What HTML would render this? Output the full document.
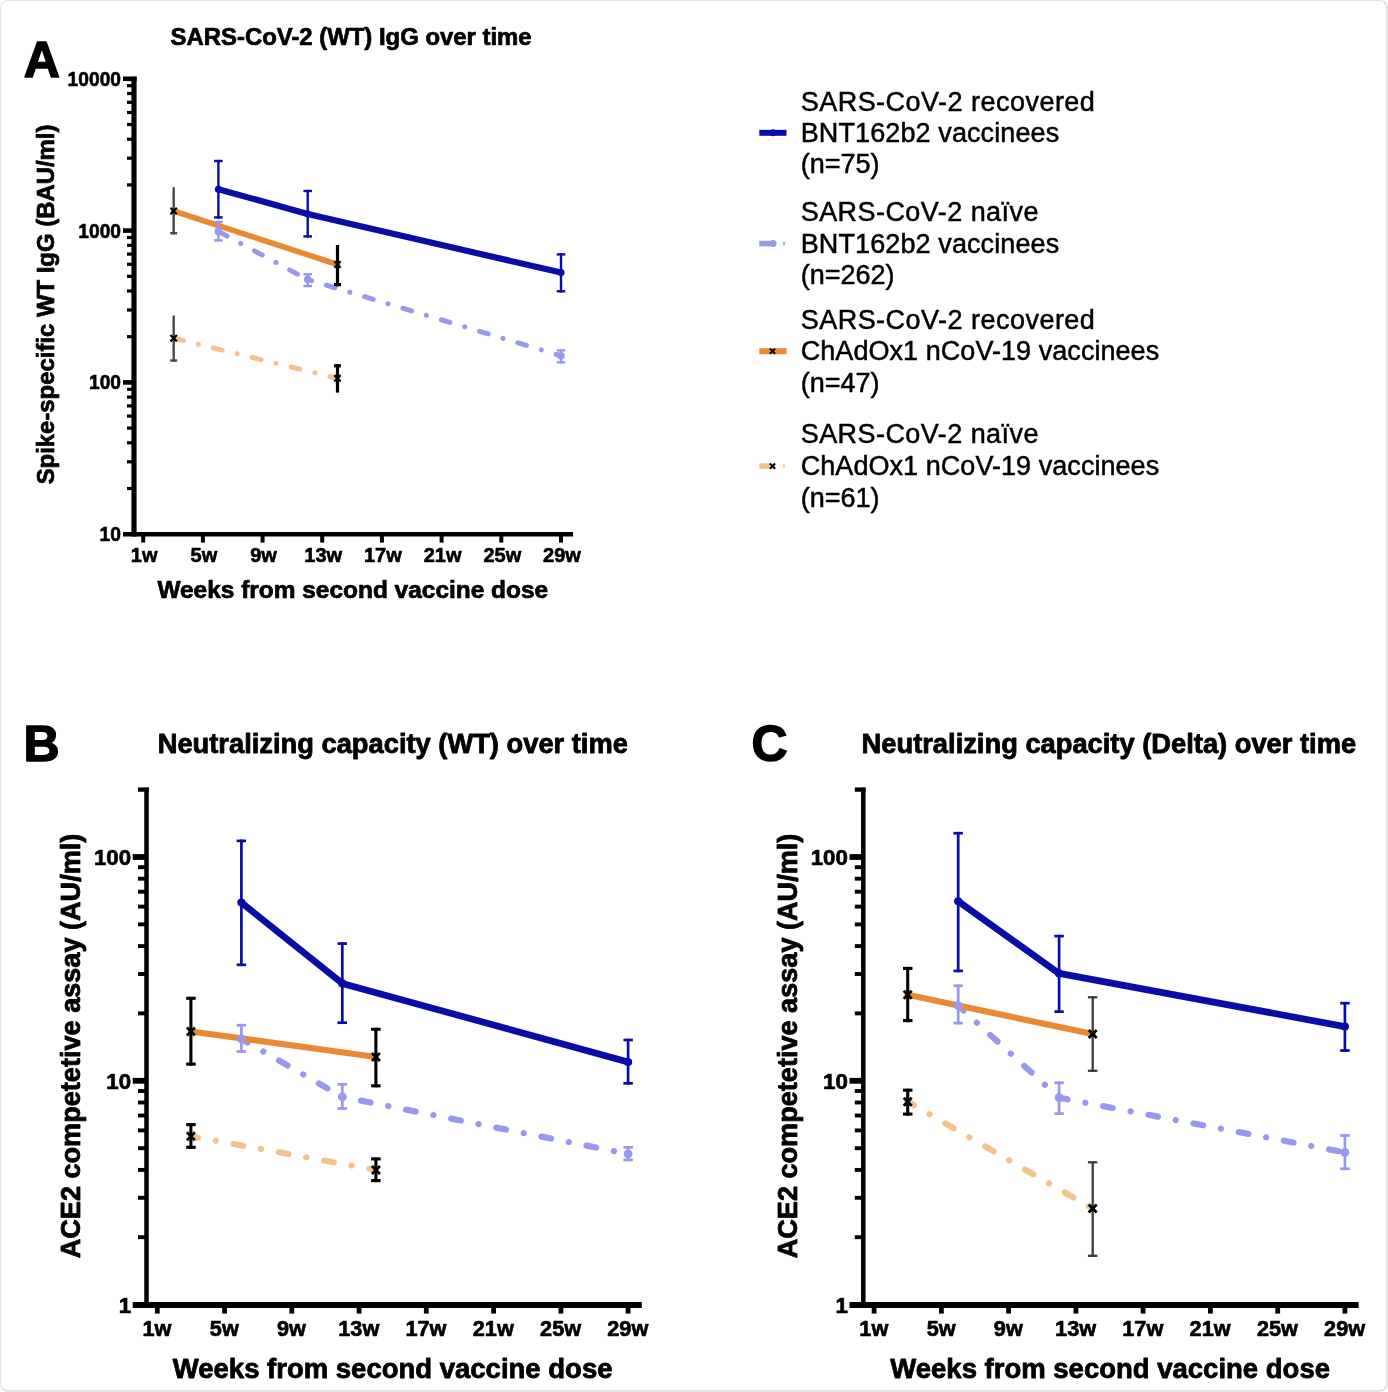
<!DOCTYPE html>
<html lang="en"><head><meta charset="utf-8"><title>Figure</title>
<style>
html,body{margin:0;padding:0;background:#fff;}
body{width:1388px;height:1392px;overflow:hidden;position:relative;}
.frame{position:absolute;left:0;top:0;width:1388px;height:1392px;box-sizing:border-box;border:1px solid #e3e3e3;border-right-width:2px;border-bottom-width:2px;border-radius:8px;background:#fff;}
svg{position:absolute;left:0;top:0;}
svg text{font-family:"Liberation Sans",Arial,Helvetica,sans-serif;}
</style></head><body>
<div class="frame"></div>
<svg width="1388" height="1392" viewBox="0 0 1388 1392">
<line x1="134.0" y1="76.8" x2="134.0" y2="536.5" stroke="#000" stroke-width="5.2" stroke-linecap="butt"/>
<line x1="123.0" y1="534.2" x2="573.0" y2="534.2" stroke="#000" stroke-width="4.6" stroke-linecap="butt"/>
<line x1="123.0" y1="78.8" x2="136.6" y2="78.8" stroke="#000" stroke-width="4.6" stroke-linecap="butt"/>
<text x="121.0" y="85.7" font-size="20" font-weight="bold" text-anchor="end" fill="#000" stroke="#000" stroke-width="0.60" stroke-linejoin="round" textLength="53.4" lengthAdjust="spacingAndGlyphs">10000</text>
<line x1="127.0" y1="184.9" x2="134.0" y2="184.9" stroke="#000" stroke-width="3.2" stroke-linecap="butt"/>
<line x1="127.0" y1="158.2" x2="134.0" y2="158.2" stroke="#000" stroke-width="3.2" stroke-linecap="butt"/>
<line x1="127.0" y1="139.2" x2="134.0" y2="139.2" stroke="#000" stroke-width="3.2" stroke-linecap="butt"/>
<line x1="127.0" y1="124.5" x2="134.0" y2="124.5" stroke="#000" stroke-width="3.2" stroke-linecap="butt"/>
<line x1="127.0" y1="112.5" x2="134.0" y2="112.5" stroke="#000" stroke-width="3.2" stroke-linecap="butt"/>
<line x1="127.0" y1="102.3" x2="134.0" y2="102.3" stroke="#000" stroke-width="3.2" stroke-linecap="butt"/>
<line x1="127.0" y1="93.5" x2="134.0" y2="93.5" stroke="#000" stroke-width="3.2" stroke-linecap="butt"/>
<line x1="127.0" y1="85.7" x2="134.0" y2="85.7" stroke="#000" stroke-width="3.2" stroke-linecap="butt"/>
<line x1="123.0" y1="230.6" x2="134.0" y2="230.6" stroke="#000" stroke-width="4.6" stroke-linecap="butt"/>
<text x="121.0" y="237.5" font-size="20" font-weight="bold" text-anchor="end" fill="#000" stroke="#000" stroke-width="0.60" stroke-linejoin="round" textLength="42.7" lengthAdjust="spacingAndGlyphs">1000</text>
<line x1="127.0" y1="336.7" x2="134.0" y2="336.7" stroke="#000" stroke-width="3.2" stroke-linecap="butt"/>
<line x1="127.0" y1="310.0" x2="134.0" y2="310.0" stroke="#000" stroke-width="3.2" stroke-linecap="butt"/>
<line x1="127.0" y1="291.0" x2="134.0" y2="291.0" stroke="#000" stroke-width="3.2" stroke-linecap="butt"/>
<line x1="127.0" y1="276.3" x2="134.0" y2="276.3" stroke="#000" stroke-width="3.2" stroke-linecap="butt"/>
<line x1="127.0" y1="264.3" x2="134.0" y2="264.3" stroke="#000" stroke-width="3.2" stroke-linecap="butt"/>
<line x1="127.0" y1="254.1" x2="134.0" y2="254.1" stroke="#000" stroke-width="3.2" stroke-linecap="butt"/>
<line x1="127.0" y1="245.3" x2="134.0" y2="245.3" stroke="#000" stroke-width="3.2" stroke-linecap="butt"/>
<line x1="127.0" y1="237.5" x2="134.0" y2="237.5" stroke="#000" stroke-width="3.2" stroke-linecap="butt"/>
<line x1="123.0" y1="382.4" x2="134.0" y2="382.4" stroke="#000" stroke-width="4.6" stroke-linecap="butt"/>
<text x="121.0" y="389.3" font-size="20" font-weight="bold" text-anchor="end" fill="#000" stroke="#000" stroke-width="0.60" stroke-linejoin="round" textLength="32.0" lengthAdjust="spacingAndGlyphs">100</text>
<line x1="127.0" y1="488.5" x2="134.0" y2="488.5" stroke="#000" stroke-width="3.2" stroke-linecap="butt"/>
<line x1="127.0" y1="461.8" x2="134.0" y2="461.8" stroke="#000" stroke-width="3.2" stroke-linecap="butt"/>
<line x1="127.0" y1="442.8" x2="134.0" y2="442.8" stroke="#000" stroke-width="3.2" stroke-linecap="butt"/>
<line x1="127.0" y1="428.1" x2="134.0" y2="428.1" stroke="#000" stroke-width="3.2" stroke-linecap="butt"/>
<line x1="127.0" y1="416.1" x2="134.0" y2="416.1" stroke="#000" stroke-width="3.2" stroke-linecap="butt"/>
<line x1="127.0" y1="405.9" x2="134.0" y2="405.9" stroke="#000" stroke-width="3.2" stroke-linecap="butt"/>
<line x1="127.0" y1="397.1" x2="134.0" y2="397.1" stroke="#000" stroke-width="3.2" stroke-linecap="butt"/>
<line x1="127.0" y1="389.3" x2="134.0" y2="389.3" stroke="#000" stroke-width="3.2" stroke-linecap="butt"/>
<text x="121.0" y="541.1" font-size="20" font-weight="bold" text-anchor="end" fill="#000" stroke="#000" stroke-width="0.60" stroke-linejoin="round" textLength="21.4" lengthAdjust="spacingAndGlyphs">10</text>
<line x1="143.2" y1="534.2" x2="143.2" y2="542.6" stroke="#000" stroke-width="4.0" stroke-linecap="butt"/>
<text x="144.2" y="562.0" font-size="20" font-weight="bold" text-anchor="middle" fill="#000" stroke="#000" stroke-width="0.60" stroke-linejoin="round">1w</text>
<line x1="202.9" y1="534.2" x2="202.9" y2="542.6" stroke="#000" stroke-width="4.0" stroke-linecap="butt"/>
<text x="203.9" y="562.0" font-size="20" font-weight="bold" text-anchor="middle" fill="#000" stroke="#000" stroke-width="0.60" stroke-linejoin="round">5w</text>
<line x1="262.6" y1="534.2" x2="262.6" y2="542.6" stroke="#000" stroke-width="4.0" stroke-linecap="butt"/>
<text x="263.6" y="562.0" font-size="20" font-weight="bold" text-anchor="middle" fill="#000" stroke="#000" stroke-width="0.60" stroke-linejoin="round">9w</text>
<line x1="322.2" y1="534.2" x2="322.2" y2="542.6" stroke="#000" stroke-width="4.0" stroke-linecap="butt"/>
<text x="323.2" y="562.0" font-size="20" font-weight="bold" text-anchor="middle" fill="#000" stroke="#000" stroke-width="0.60" stroke-linejoin="round">13w</text>
<line x1="381.9" y1="534.2" x2="381.9" y2="542.6" stroke="#000" stroke-width="4.0" stroke-linecap="butt"/>
<text x="382.9" y="562.0" font-size="20" font-weight="bold" text-anchor="middle" fill="#000" stroke="#000" stroke-width="0.60" stroke-linejoin="round">17w</text>
<line x1="441.6" y1="534.2" x2="441.6" y2="542.6" stroke="#000" stroke-width="4.0" stroke-linecap="butt"/>
<text x="442.6" y="562.0" font-size="20" font-weight="bold" text-anchor="middle" fill="#000" stroke="#000" stroke-width="0.60" stroke-linejoin="round">21w</text>
<line x1="501.3" y1="534.2" x2="501.3" y2="542.6" stroke="#000" stroke-width="4.0" stroke-linecap="butt"/>
<text x="502.3" y="562.0" font-size="20" font-weight="bold" text-anchor="middle" fill="#000" stroke="#000" stroke-width="0.60" stroke-linejoin="round">25w</text>
<line x1="561.0" y1="534.2" x2="561.0" y2="542.6" stroke="#000" stroke-width="4.0" stroke-linecap="butt"/>
<text x="562.0" y="562.0" font-size="20" font-weight="bold" text-anchor="middle" fill="#000" stroke="#000" stroke-width="0.60" stroke-linejoin="round">29w</text>
<text x="170.6" y="45.2" font-size="23.9" font-weight="bold" text-anchor="start" fill="#000" stroke="#000" stroke-width="0.72" stroke-linejoin="round">SARS-CoV-2 (WT) IgG over time</text>
<text x="157.4" y="598.0" font-size="24.45" font-weight="bold" text-anchor="start" fill="#000" stroke="#000" stroke-width="0.73" stroke-linejoin="round">Weeks from second vaccine dose</text>
<text x="54.0" y="304.5" font-size="23.9" font-weight="bold" text-anchor="middle" fill="#000" stroke="#000" stroke-width="0.72" stroke-linejoin="round" transform="rotate(-90 54.0 304.5)">Spike-specific WT IgG (BAU/ml)</text>
<text x="23.8" y="77.0" font-size="50" font-weight="bold" text-anchor="start" fill="#000" stroke="#000" stroke-width="1.50" stroke-linejoin="round">A</text>
<polyline points="173.7,338.2 337.5,378.3" fill="none" stroke="#f3c28f" stroke-width="5.0" stroke-linecap="round" stroke-linejoin="round" stroke-dasharray="9.0 15.45 0.1 15.45" stroke-dashoffset="-0.9"/>
<polyline points="218.4,231.4 307.7,279.6 561.0,355.8" fill="none" stroke="#9898ee" stroke-width="5.0" stroke-linecap="round" stroke-linejoin="round" stroke-dasharray="9.0 15.45 0.1 15.45" stroke-dashoffset="-0.9"/>
<polyline points="173.7,211.0 337.5,264.5" fill="none" stroke="#ec8833" stroke-width="5.6000000000000005" stroke-linecap="round" stroke-linejoin="round"/>
<polyline points="218.4,189.2 307.7,214.0 561.0,272.6" fill="none" stroke="#0a0ca8" stroke-width="6.2" stroke-linecap="round" stroke-linejoin="round"/>
<line x1="218.4" y1="220.8" x2="218.4" y2="241.6" stroke="#9898ee" stroke-width="2.4" stroke-linecap="butt"/>
<line x1="214.1" y1="222.0" x2="222.7" y2="222.0" stroke="#9898ee" stroke-width="2.4" stroke-linecap="butt"/>
<line x1="214.1" y1="240.4" x2="222.7" y2="240.4" stroke="#9898ee" stroke-width="2.4" stroke-linecap="butt"/>
<circle cx="218.4" cy="231.4" r="3.8" fill="#9898ee"/>
<line x1="307.7" y1="273.1" x2="307.7" y2="287.2" stroke="#9898ee" stroke-width="2.4" stroke-linecap="butt"/>
<line x1="303.4" y1="274.3" x2="312.0" y2="274.3" stroke="#9898ee" stroke-width="2.4" stroke-linecap="butt"/>
<line x1="303.4" y1="286.0" x2="312.0" y2="286.0" stroke="#9898ee" stroke-width="2.4" stroke-linecap="butt"/>
<circle cx="307.7" cy="279.6" r="3.8" fill="#9898ee"/>
<line x1="561.0" y1="349.2" x2="561.0" y2="363.5" stroke="#9898ee" stroke-width="2.4" stroke-linecap="butt"/>
<line x1="556.7" y1="350.4" x2="565.3" y2="350.4" stroke="#9898ee" stroke-width="2.4" stroke-linecap="butt"/>
<line x1="556.7" y1="362.3" x2="565.3" y2="362.3" stroke="#9898ee" stroke-width="2.4" stroke-linecap="butt"/>
<circle cx="561.0" cy="355.8" r="3.8" fill="#9898ee"/>
<line x1="218.4" y1="159.8" x2="218.4" y2="218.6" stroke="#0a0ca8" stroke-width="2.4" stroke-linecap="butt"/>
<line x1="214.1" y1="161.0" x2="222.7" y2="161.0" stroke="#0a0ca8" stroke-width="2.4" stroke-linecap="butt"/>
<line x1="214.1" y1="217.4" x2="222.7" y2="217.4" stroke="#0a0ca8" stroke-width="2.4" stroke-linecap="butt"/>
<circle cx="218.4" cy="189.2" r="3.5" fill="#0a0ca8"/>
<line x1="307.7" y1="189.8" x2="307.7" y2="237.6" stroke="#0a0ca8" stroke-width="2.4" stroke-linecap="butt"/>
<line x1="303.4" y1="191.0" x2="312.0" y2="191.0" stroke="#0a0ca8" stroke-width="2.4" stroke-linecap="butt"/>
<line x1="303.4" y1="236.4" x2="312.0" y2="236.4" stroke="#0a0ca8" stroke-width="2.4" stroke-linecap="butt"/>
<circle cx="307.7" cy="214.0" r="3.5" fill="#0a0ca8"/>
<line x1="561.0" y1="253.2" x2="561.0" y2="292.5" stroke="#0a0ca8" stroke-width="2.4" stroke-linecap="butt"/>
<line x1="556.7" y1="254.4" x2="565.3" y2="254.4" stroke="#0a0ca8" stroke-width="2.4" stroke-linecap="butt"/>
<line x1="556.7" y1="291.3" x2="565.3" y2="291.3" stroke="#0a0ca8" stroke-width="2.4" stroke-linecap="butt"/>
<circle cx="561.0" cy="272.6" r="3.5" fill="#0a0ca8"/>
<line x1="173.7" y1="315.6" x2="173.7" y2="361.7" stroke="#484848" stroke-width="2.4" stroke-linecap="butt"/>
<line x1="170.2" y1="360.5" x2="177.2" y2="360.5" stroke="#484848" stroke-width="2.4" stroke-linecap="butt"/>
<line x1="170.5" y1="335.0" x2="176.9" y2="341.4" stroke="#000" stroke-width="2.2" stroke-linecap="butt"/>
<line x1="170.5" y1="341.4" x2="176.9" y2="335.0" stroke="#000" stroke-width="2.2" stroke-linecap="butt"/>
<line x1="337.5" y1="364.2" x2="337.5" y2="392.6" stroke="#000" stroke-width="3.2" stroke-linecap="butt"/>
<line x1="334.0" y1="365.8" x2="341.0" y2="365.8" stroke="#000" stroke-width="3.2" stroke-linecap="butt"/>
<line x1="334.3" y1="375.1" x2="340.7" y2="381.5" stroke="#000" stroke-width="2.2" stroke-linecap="butt"/>
<line x1="334.3" y1="381.5" x2="340.7" y2="375.1" stroke="#000" stroke-width="2.2" stroke-linecap="butt"/>
<line x1="173.7" y1="187.2" x2="173.7" y2="234.4" stroke="#484848" stroke-width="2.4" stroke-linecap="butt"/>
<line x1="170.2" y1="233.2" x2="177.2" y2="233.2" stroke="#484848" stroke-width="2.4" stroke-linecap="butt"/>
<line x1="170.5" y1="207.8" x2="176.9" y2="214.2" stroke="#000" stroke-width="2.2" stroke-linecap="butt"/>
<line x1="170.5" y1="214.2" x2="176.9" y2="207.8" stroke="#000" stroke-width="2.2" stroke-linecap="butt"/>
<line x1="337.5" y1="245.0" x2="337.5" y2="286.2" stroke="#000" stroke-width="3.2" stroke-linecap="butt"/>
<line x1="334.0" y1="284.6" x2="341.0" y2="284.6" stroke="#000" stroke-width="3.2" stroke-linecap="butt"/>
<line x1="334.3" y1="261.3" x2="340.7" y2="267.7" stroke="#000" stroke-width="2.2" stroke-linecap="butt"/>
<line x1="334.3" y1="267.7" x2="340.7" y2="261.3" stroke="#000" stroke-width="2.2" stroke-linecap="butt"/>
<line x1="146.5" y1="787.8" x2="146.5" y2="1307.9" stroke="#000" stroke-width="4.5" stroke-linecap="butt"/>
<line x1="132.7" y1="1305.0" x2="641.8" y2="1305.0" stroke="#000" stroke-width="5.8" stroke-linecap="butt"/>
<line x1="132.7" y1="857.0" x2="146.5" y2="857.0" stroke="#000" stroke-width="5.8" stroke-linecap="butt"/>
<text x="131.1" y="865.1" font-size="22.3" font-weight="bold" text-anchor="end" fill="#000" stroke="#000" stroke-width="0.67" stroke-linejoin="round">100</text>
<line x1="138.0" y1="1013.4" x2="146.5" y2="1013.4" stroke="#000" stroke-width="3.9" stroke-linecap="butt"/>
<line x1="138.0" y1="974.0" x2="146.5" y2="974.0" stroke="#000" stroke-width="3.9" stroke-linecap="butt"/>
<line x1="138.0" y1="946.1" x2="146.5" y2="946.1" stroke="#000" stroke-width="3.9" stroke-linecap="butt"/>
<line x1="138.0" y1="924.4" x2="146.5" y2="924.4" stroke="#000" stroke-width="3.9" stroke-linecap="butt"/>
<line x1="138.0" y1="906.6" x2="146.5" y2="906.6" stroke="#000" stroke-width="3.9" stroke-linecap="butt"/>
<line x1="138.0" y1="891.7" x2="146.5" y2="891.7" stroke="#000" stroke-width="3.9" stroke-linecap="butt"/>
<line x1="138.0" y1="878.7" x2="146.5" y2="878.7" stroke="#000" stroke-width="3.9" stroke-linecap="butt"/>
<line x1="138.0" y1="867.2" x2="146.5" y2="867.2" stroke="#000" stroke-width="3.9" stroke-linecap="butt"/>
<line x1="132.7" y1="1080.8" x2="146.5" y2="1080.8" stroke="#000" stroke-width="5.8" stroke-linecap="butt"/>
<text x="131.1" y="1088.9" font-size="22.3" font-weight="bold" text-anchor="end" fill="#000" stroke="#000" stroke-width="0.67" stroke-linejoin="round">10</text>
<line x1="138.0" y1="1237.2" x2="146.5" y2="1237.2" stroke="#000" stroke-width="3.9" stroke-linecap="butt"/>
<line x1="138.0" y1="1197.8" x2="146.5" y2="1197.8" stroke="#000" stroke-width="3.9" stroke-linecap="butt"/>
<line x1="138.0" y1="1169.9" x2="146.5" y2="1169.9" stroke="#000" stroke-width="3.9" stroke-linecap="butt"/>
<line x1="138.0" y1="1148.2" x2="146.5" y2="1148.2" stroke="#000" stroke-width="3.9" stroke-linecap="butt"/>
<line x1="138.0" y1="1130.4" x2="146.5" y2="1130.4" stroke="#000" stroke-width="3.9" stroke-linecap="butt"/>
<line x1="138.0" y1="1115.5" x2="146.5" y2="1115.5" stroke="#000" stroke-width="3.9" stroke-linecap="butt"/>
<line x1="138.0" y1="1102.5" x2="146.5" y2="1102.5" stroke="#000" stroke-width="3.9" stroke-linecap="butt"/>
<line x1="138.0" y1="1091.0" x2="146.5" y2="1091.0" stroke="#000" stroke-width="3.9" stroke-linecap="butt"/>
<text x="131.1" y="1312.7" font-size="22.3" font-weight="bold" text-anchor="end" fill="#000" stroke="#000" stroke-width="0.67" stroke-linejoin="round">1</text>
<line x1="138.0" y1="789.6" x2="148.8" y2="789.6" stroke="#000" stroke-width="4.3" stroke-linecap="butt"/>
<line x1="157.3" y1="1305.0" x2="157.3" y2="1313.6" stroke="#000" stroke-width="4.8" stroke-linecap="butt"/>
<text x="157.0" y="1336.2" font-size="21.7" font-weight="bold" text-anchor="middle" fill="#000" stroke="#000" stroke-width="0.65" stroke-linejoin="round">1w</text>
<line x1="224.6" y1="1305.0" x2="224.6" y2="1313.6" stroke="#000" stroke-width="4.8" stroke-linecap="butt"/>
<text x="224.3" y="1336.2" font-size="21.7" font-weight="bold" text-anchor="middle" fill="#000" stroke="#000" stroke-width="0.65" stroke-linejoin="round">5w</text>
<line x1="291.8" y1="1305.0" x2="291.8" y2="1313.6" stroke="#000" stroke-width="4.8" stroke-linecap="butt"/>
<text x="291.5" y="1336.2" font-size="21.7" font-weight="bold" text-anchor="middle" fill="#000" stroke="#000" stroke-width="0.65" stroke-linejoin="round">9w</text>
<line x1="359.1" y1="1305.0" x2="359.1" y2="1313.6" stroke="#000" stroke-width="4.8" stroke-linecap="butt"/>
<text x="358.8" y="1336.2" font-size="21.7" font-weight="bold" text-anchor="middle" fill="#000" stroke="#000" stroke-width="0.65" stroke-linejoin="round">13w</text>
<line x1="426.3" y1="1305.0" x2="426.3" y2="1313.6" stroke="#000" stroke-width="4.8" stroke-linecap="butt"/>
<text x="426.0" y="1336.2" font-size="21.7" font-weight="bold" text-anchor="middle" fill="#000" stroke="#000" stroke-width="0.65" stroke-linejoin="round">17w</text>
<line x1="493.6" y1="1305.0" x2="493.6" y2="1313.6" stroke="#000" stroke-width="4.8" stroke-linecap="butt"/>
<text x="493.3" y="1336.2" font-size="21.7" font-weight="bold" text-anchor="middle" fill="#000" stroke="#000" stroke-width="0.65" stroke-linejoin="round">21w</text>
<line x1="560.9" y1="1305.0" x2="560.9" y2="1313.6" stroke="#000" stroke-width="4.8" stroke-linecap="butt"/>
<text x="560.6" y="1336.2" font-size="21.7" font-weight="bold" text-anchor="middle" fill="#000" stroke="#000" stroke-width="0.65" stroke-linejoin="round">25w</text>
<line x1="628.1" y1="1305.0" x2="628.1" y2="1313.6" stroke="#000" stroke-width="4.8" stroke-linecap="butt"/>
<text x="627.8" y="1336.2" font-size="21.7" font-weight="bold" text-anchor="middle" fill="#000" stroke="#000" stroke-width="0.65" stroke-linejoin="round">29w</text>
<text x="157.7" y="752.6" font-size="27.3" font-weight="bold" text-anchor="start" fill="#000" stroke="#000" stroke-width="0.82" stroke-linejoin="round">Neutralizing capacity (WT) over time</text>
<text x="172.8" y="1378.0" font-size="27.5" font-weight="bold" text-anchor="start" fill="#000" stroke="#000" stroke-width="0.82" stroke-linejoin="round">Weeks from second vaccine dose</text>
<text x="79.8" y="1046.0" font-size="27.1" font-weight="bold" text-anchor="middle" fill="#000" stroke="#000" stroke-width="0.81" stroke-linejoin="round" transform="rotate(-90 79.8 1046.0)">ACE2 competetive assay (AU/ml)</text>
<text x="23.6" y="761.3" font-size="50" font-weight="bold" text-anchor="start" fill="#000" stroke="#000" stroke-width="1.50" stroke-linejoin="round">B</text>
<polyline points="190.9,1136.2 375.9,1170.0" fill="none" stroke="#f3c28f" stroke-width="6.2" stroke-linecap="round" stroke-linejoin="round" stroke-dasharray="9.8 18.05 0.1 18.05" stroke-dashoffset="2.6"/>
<polyline points="241.4,1038.9 342.3,1096.9 628.1,1153.9" fill="none" stroke="#9898ee" stroke-width="6.2" stroke-linecap="round" stroke-linejoin="round" stroke-dasharray="9.8 18.05 0.1 18.05" stroke-dashoffset="2.6"/>
<polyline points="190.9,1031.4 375.9,1057.0" fill="none" stroke="#ec8833" stroke-width="6.1000000000000005" stroke-linecap="round" stroke-linejoin="round"/>
<polyline points="241.4,902.6 342.3,983.4 628.1,1062.0" fill="none" stroke="#0a0ca8" stroke-width="6.7" stroke-linecap="round" stroke-linejoin="round"/>
<line x1="241.4" y1="1023.9" x2="241.4" y2="1052.8" stroke="#9898ee" stroke-width="2.7" stroke-linecap="butt"/>
<line x1="236.6" y1="1025.2" x2="246.1" y2="1025.2" stroke="#9898ee" stroke-width="2.7" stroke-linecap="butt"/>
<line x1="236.6" y1="1051.5" x2="246.1" y2="1051.5" stroke="#9898ee" stroke-width="2.7" stroke-linecap="butt"/>
<circle cx="241.4" cy="1038.9" r="4.4" fill="#9898ee"/>
<line x1="342.3" y1="1083.0" x2="342.3" y2="1109.8" stroke="#9898ee" stroke-width="2.7" stroke-linecap="butt"/>
<line x1="337.5" y1="1084.3" x2="347.0" y2="1084.3" stroke="#9898ee" stroke-width="2.7" stroke-linecap="butt"/>
<line x1="337.5" y1="1108.5" x2="347.0" y2="1108.5" stroke="#9898ee" stroke-width="2.7" stroke-linecap="butt"/>
<circle cx="342.3" cy="1096.9" r="4.4" fill="#9898ee"/>
<line x1="628.1" y1="1146.0" x2="628.1" y2="1161.2" stroke="#9898ee" stroke-width="2.7" stroke-linecap="butt"/>
<line x1="623.4" y1="1147.3" x2="632.9" y2="1147.3" stroke="#9898ee" stroke-width="2.7" stroke-linecap="butt"/>
<line x1="623.4" y1="1159.9" x2="632.9" y2="1159.9" stroke="#9898ee" stroke-width="2.7" stroke-linecap="butt"/>
<circle cx="628.1" cy="1153.9" r="4.4" fill="#9898ee"/>
<line x1="241.4" y1="839.5" x2="241.4" y2="966.1" stroke="#0a0ca8" stroke-width="2.7" stroke-linecap="butt"/>
<line x1="236.6" y1="840.9" x2="246.1" y2="840.9" stroke="#0a0ca8" stroke-width="2.7" stroke-linecap="butt"/>
<line x1="236.6" y1="964.8" x2="246.1" y2="964.8" stroke="#0a0ca8" stroke-width="2.7" stroke-linecap="butt"/>
<circle cx="241.4" cy="902.6" r="4.1000000000000005" fill="#0a0ca8"/>
<line x1="342.3" y1="942.2" x2="342.3" y2="1024.0" stroke="#0a0ca8" stroke-width="2.7" stroke-linecap="butt"/>
<line x1="337.5" y1="943.6" x2="347.0" y2="943.6" stroke="#0a0ca8" stroke-width="2.7" stroke-linecap="butt"/>
<line x1="337.5" y1="1022.7" x2="347.0" y2="1022.7" stroke="#0a0ca8" stroke-width="2.7" stroke-linecap="butt"/>
<circle cx="342.3" cy="983.4" r="4.1000000000000005" fill="#0a0ca8"/>
<line x1="628.1" y1="1038.7" x2="628.1" y2="1084.6" stroke="#0a0ca8" stroke-width="2.7" stroke-linecap="butt"/>
<line x1="623.4" y1="1040.0" x2="632.9" y2="1040.0" stroke="#0a0ca8" stroke-width="2.7" stroke-linecap="butt"/>
<line x1="623.4" y1="1083.3" x2="632.9" y2="1083.3" stroke="#0a0ca8" stroke-width="2.7" stroke-linecap="butt"/>
<circle cx="628.1" cy="1062.0" r="4.1000000000000005" fill="#0a0ca8"/>
<line x1="190.9" y1="1123.0" x2="190.9" y2="1148.8" stroke="#000" stroke-width="3.1" stroke-linecap="butt"/>
<line x1="186.2" y1="1124.6" x2="195.7" y2="1124.6" stroke="#000" stroke-width="3.1" stroke-linecap="butt"/>
<line x1="186.2" y1="1147.3" x2="195.7" y2="1147.3" stroke="#000" stroke-width="3.1" stroke-linecap="butt"/>
<line x1="186.9" y1="1132.2" x2="194.9" y2="1140.2" stroke="#000" stroke-width="2.8" stroke-linecap="butt"/>
<line x1="186.9" y1="1140.2" x2="194.9" y2="1132.2" stroke="#000" stroke-width="2.8" stroke-linecap="butt"/>
<line x1="375.9" y1="1157.4" x2="375.9" y2="1182.1" stroke="#000" stroke-width="3.1" stroke-linecap="butt"/>
<line x1="371.1" y1="1158.9" x2="380.6" y2="1158.9" stroke="#000" stroke-width="3.1" stroke-linecap="butt"/>
<line x1="371.1" y1="1180.6" x2="380.6" y2="1180.6" stroke="#000" stroke-width="3.1" stroke-linecap="butt"/>
<line x1="371.9" y1="1166.0" x2="379.9" y2="1174.0" stroke="#000" stroke-width="2.8" stroke-linecap="butt"/>
<line x1="371.9" y1="1174.0" x2="379.9" y2="1166.0" stroke="#000" stroke-width="2.8" stroke-linecap="butt"/>
<line x1="190.9" y1="996.8" x2="190.9" y2="1065.6" stroke="#000" stroke-width="3.1" stroke-linecap="butt"/>
<line x1="186.2" y1="998.3" x2="195.7" y2="998.3" stroke="#000" stroke-width="3.1" stroke-linecap="butt"/>
<line x1="186.2" y1="1064.1" x2="195.7" y2="1064.1" stroke="#000" stroke-width="3.1" stroke-linecap="butt"/>
<line x1="186.9" y1="1027.4" x2="194.9" y2="1035.4" stroke="#000" stroke-width="2.8" stroke-linecap="butt"/>
<line x1="186.9" y1="1035.4" x2="194.9" y2="1027.4" stroke="#000" stroke-width="2.8" stroke-linecap="butt"/>
<line x1="375.9" y1="1027.8" x2="375.9" y2="1087.3" stroke="#000" stroke-width="3.1" stroke-linecap="butt"/>
<line x1="371.1" y1="1029.3" x2="380.6" y2="1029.3" stroke="#000" stroke-width="3.1" stroke-linecap="butt"/>
<line x1="371.1" y1="1085.8" x2="380.6" y2="1085.8" stroke="#000" stroke-width="3.1" stroke-linecap="butt"/>
<line x1="371.9" y1="1053.0" x2="379.9" y2="1061.0" stroke="#000" stroke-width="2.8" stroke-linecap="butt"/>
<line x1="371.9" y1="1061.0" x2="379.9" y2="1053.0" stroke="#000" stroke-width="2.8" stroke-linecap="butt"/>
<line x1="863.3" y1="787.8" x2="863.3" y2="1307.9" stroke="#000" stroke-width="4.5" stroke-linecap="butt"/>
<line x1="849.5" y1="1305.0" x2="1358.6" y2="1305.0" stroke="#000" stroke-width="5.8" stroke-linecap="butt"/>
<line x1="849.5" y1="857.0" x2="863.3" y2="857.0" stroke="#000" stroke-width="5.8" stroke-linecap="butt"/>
<text x="847.9" y="865.1" font-size="22.3" font-weight="bold" text-anchor="end" fill="#000" stroke="#000" stroke-width="0.67" stroke-linejoin="round">100</text>
<line x1="854.8" y1="1013.4" x2="863.3" y2="1013.4" stroke="#000" stroke-width="3.9" stroke-linecap="butt"/>
<line x1="854.8" y1="974.0" x2="863.3" y2="974.0" stroke="#000" stroke-width="3.9" stroke-linecap="butt"/>
<line x1="854.8" y1="946.1" x2="863.3" y2="946.1" stroke="#000" stroke-width="3.9" stroke-linecap="butt"/>
<line x1="854.8" y1="924.4" x2="863.3" y2="924.4" stroke="#000" stroke-width="3.9" stroke-linecap="butt"/>
<line x1="854.8" y1="906.6" x2="863.3" y2="906.6" stroke="#000" stroke-width="3.9" stroke-linecap="butt"/>
<line x1="854.8" y1="891.7" x2="863.3" y2="891.7" stroke="#000" stroke-width="3.9" stroke-linecap="butt"/>
<line x1="854.8" y1="878.7" x2="863.3" y2="878.7" stroke="#000" stroke-width="3.9" stroke-linecap="butt"/>
<line x1="854.8" y1="867.2" x2="863.3" y2="867.2" stroke="#000" stroke-width="3.9" stroke-linecap="butt"/>
<line x1="849.5" y1="1080.8" x2="863.3" y2="1080.8" stroke="#000" stroke-width="5.8" stroke-linecap="butt"/>
<text x="847.9" y="1088.9" font-size="22.3" font-weight="bold" text-anchor="end" fill="#000" stroke="#000" stroke-width="0.67" stroke-linejoin="round">10</text>
<line x1="854.8" y1="1237.2" x2="863.3" y2="1237.2" stroke="#000" stroke-width="3.9" stroke-linecap="butt"/>
<line x1="854.8" y1="1197.8" x2="863.3" y2="1197.8" stroke="#000" stroke-width="3.9" stroke-linecap="butt"/>
<line x1="854.8" y1="1169.9" x2="863.3" y2="1169.9" stroke="#000" stroke-width="3.9" stroke-linecap="butt"/>
<line x1="854.8" y1="1148.2" x2="863.3" y2="1148.2" stroke="#000" stroke-width="3.9" stroke-linecap="butt"/>
<line x1="854.8" y1="1130.4" x2="863.3" y2="1130.4" stroke="#000" stroke-width="3.9" stroke-linecap="butt"/>
<line x1="854.8" y1="1115.5" x2="863.3" y2="1115.5" stroke="#000" stroke-width="3.9" stroke-linecap="butt"/>
<line x1="854.8" y1="1102.5" x2="863.3" y2="1102.5" stroke="#000" stroke-width="3.9" stroke-linecap="butt"/>
<line x1="854.8" y1="1091.0" x2="863.3" y2="1091.0" stroke="#000" stroke-width="3.9" stroke-linecap="butt"/>
<text x="847.9" y="1312.7" font-size="22.3" font-weight="bold" text-anchor="end" fill="#000" stroke="#000" stroke-width="0.67" stroke-linejoin="round">1</text>
<line x1="854.8" y1="789.6" x2="865.5" y2="789.6" stroke="#000" stroke-width="4.3" stroke-linecap="butt"/>
<line x1="874.1" y1="1305.0" x2="874.1" y2="1313.6" stroke="#000" stroke-width="4.8" stroke-linecap="butt"/>
<text x="873.8" y="1336.2" font-size="21.7" font-weight="bold" text-anchor="middle" fill="#000" stroke="#000" stroke-width="0.65" stroke-linejoin="round">1w</text>
<line x1="941.4" y1="1305.0" x2="941.4" y2="1313.6" stroke="#000" stroke-width="4.8" stroke-linecap="butt"/>
<text x="941.1" y="1336.2" font-size="21.7" font-weight="bold" text-anchor="middle" fill="#000" stroke="#000" stroke-width="0.65" stroke-linejoin="round">5w</text>
<line x1="1008.6" y1="1305.0" x2="1008.6" y2="1313.6" stroke="#000" stroke-width="4.8" stroke-linecap="butt"/>
<text x="1008.3" y="1336.2" font-size="21.7" font-weight="bold" text-anchor="middle" fill="#000" stroke="#000" stroke-width="0.65" stroke-linejoin="round">9w</text>
<line x1="1075.9" y1="1305.0" x2="1075.9" y2="1313.6" stroke="#000" stroke-width="4.8" stroke-linecap="butt"/>
<text x="1075.6" y="1336.2" font-size="21.7" font-weight="bold" text-anchor="middle" fill="#000" stroke="#000" stroke-width="0.65" stroke-linejoin="round">13w</text>
<line x1="1143.1" y1="1305.0" x2="1143.1" y2="1313.6" stroke="#000" stroke-width="4.8" stroke-linecap="butt"/>
<text x="1142.8" y="1336.2" font-size="21.7" font-weight="bold" text-anchor="middle" fill="#000" stroke="#000" stroke-width="0.65" stroke-linejoin="round">17w</text>
<line x1="1210.4" y1="1305.0" x2="1210.4" y2="1313.6" stroke="#000" stroke-width="4.8" stroke-linecap="butt"/>
<text x="1210.1" y="1336.2" font-size="21.7" font-weight="bold" text-anchor="middle" fill="#000" stroke="#000" stroke-width="0.65" stroke-linejoin="round">21w</text>
<line x1="1277.7" y1="1305.0" x2="1277.7" y2="1313.6" stroke="#000" stroke-width="4.8" stroke-linecap="butt"/>
<text x="1277.4" y="1336.2" font-size="21.7" font-weight="bold" text-anchor="middle" fill="#000" stroke="#000" stroke-width="0.65" stroke-linejoin="round">25w</text>
<line x1="1344.9" y1="1305.0" x2="1344.9" y2="1313.6" stroke="#000" stroke-width="4.8" stroke-linecap="butt"/>
<text x="1344.6" y="1336.2" font-size="21.7" font-weight="bold" text-anchor="middle" fill="#000" stroke="#000" stroke-width="0.65" stroke-linejoin="round">29w</text>
<text x="861.6" y="752.6" font-size="27.3" font-weight="bold" text-anchor="start" fill="#000" stroke="#000" stroke-width="0.82" stroke-linejoin="round">Neutralizing capacity (Delta) over time</text>
<text x="890.3" y="1378.0" font-size="27.5" font-weight="bold" text-anchor="start" fill="#000" stroke="#000" stroke-width="0.82" stroke-linejoin="round">Weeks from second vaccine dose</text>
<text x="796.6" y="1046.0" font-size="27.1" font-weight="bold" text-anchor="middle" fill="#000" stroke="#000" stroke-width="0.81" stroke-linejoin="round" transform="rotate(-90 796.6 1046.0)">ACE2 competetive assay (AU/ml)</text>
<text x="751.5" y="761.3" font-size="50" font-weight="bold" text-anchor="start" fill="#000" stroke="#000" stroke-width="1.50" stroke-linejoin="round">C</text>
<polyline points="907.7,1101.7 1092.7,1208.6" fill="none" stroke="#f3c28f" stroke-width="6.2" stroke-linecap="round" stroke-linejoin="round" stroke-dasharray="9.8 18.05 0.1 18.05" stroke-dashoffset="2.6"/>
<polyline points="958.2,1005.7 1059.1,1097.7 1344.9,1152.4" fill="none" stroke="#9898ee" stroke-width="6.2" stroke-linecap="round" stroke-linejoin="round" stroke-dasharray="9.8 18.05 0.1 18.05" stroke-dashoffset="2.6"/>
<polyline points="907.7,994.8 1092.7,1034.1" fill="none" stroke="#ec8833" stroke-width="6.1000000000000005" stroke-linecap="round" stroke-linejoin="round"/>
<polyline points="958.2,901.3 1059.1,973.4 1344.9,1026.6" fill="none" stroke="#0a0ca8" stroke-width="6.7" stroke-linecap="round" stroke-linejoin="round"/>
<line x1="958.2" y1="984.5" x2="958.2" y2="1024.5" stroke="#9898ee" stroke-width="2.7" stroke-linecap="butt"/>
<line x1="953.4" y1="985.8" x2="962.9" y2="985.8" stroke="#9898ee" stroke-width="2.7" stroke-linecap="butt"/>
<line x1="953.4" y1="1023.1" x2="962.9" y2="1023.1" stroke="#9898ee" stroke-width="2.7" stroke-linecap="butt"/>
<circle cx="958.2" cy="1005.7" r="4.4" fill="#9898ee"/>
<line x1="1059.1" y1="1081.4" x2="1059.1" y2="1115.0" stroke="#9898ee" stroke-width="2.7" stroke-linecap="butt"/>
<line x1="1054.3" y1="1082.8" x2="1063.8" y2="1082.8" stroke="#9898ee" stroke-width="2.7" stroke-linecap="butt"/>
<line x1="1054.3" y1="1113.6" x2="1063.8" y2="1113.6" stroke="#9898ee" stroke-width="2.7" stroke-linecap="butt"/>
<circle cx="1059.1" cy="1097.7" r="4.4" fill="#9898ee"/>
<line x1="1344.9" y1="1134.1" x2="1344.9" y2="1170.1" stroke="#9898ee" stroke-width="2.7" stroke-linecap="butt"/>
<line x1="1340.2" y1="1135.5" x2="1349.7" y2="1135.5" stroke="#9898ee" stroke-width="2.7" stroke-linecap="butt"/>
<line x1="1340.2" y1="1168.8" x2="1349.7" y2="1168.8" stroke="#9898ee" stroke-width="2.7" stroke-linecap="butt"/>
<circle cx="1344.9" cy="1152.4" r="4.4" fill="#9898ee"/>
<line x1="958.2" y1="831.9" x2="958.2" y2="972.3" stroke="#0a0ca8" stroke-width="2.7" stroke-linecap="butt"/>
<line x1="953.4" y1="833.2" x2="962.9" y2="833.2" stroke="#0a0ca8" stroke-width="2.7" stroke-linecap="butt"/>
<line x1="953.4" y1="970.9" x2="962.9" y2="970.9" stroke="#0a0ca8" stroke-width="2.7" stroke-linecap="butt"/>
<circle cx="958.2" cy="901.3" r="4.1000000000000005" fill="#0a0ca8"/>
<line x1="1059.1" y1="934.8" x2="1059.1" y2="1013.0" stroke="#0a0ca8" stroke-width="2.7" stroke-linecap="butt"/>
<line x1="1054.3" y1="936.1" x2="1063.8" y2="936.1" stroke="#0a0ca8" stroke-width="2.7" stroke-linecap="butt"/>
<line x1="1054.3" y1="1011.7" x2="1063.8" y2="1011.7" stroke="#0a0ca8" stroke-width="2.7" stroke-linecap="butt"/>
<circle cx="1059.1" cy="973.4" r="4.1000000000000005" fill="#0a0ca8"/>
<line x1="1344.9" y1="1001.9" x2="1344.9" y2="1051.8" stroke="#0a0ca8" stroke-width="2.7" stroke-linecap="butt"/>
<line x1="1340.2" y1="1003.2" x2="1349.7" y2="1003.2" stroke="#0a0ca8" stroke-width="2.7" stroke-linecap="butt"/>
<line x1="1340.2" y1="1050.5" x2="1349.7" y2="1050.5" stroke="#0a0ca8" stroke-width="2.7" stroke-linecap="butt"/>
<circle cx="1344.9" cy="1026.6" r="4.1000000000000005" fill="#0a0ca8"/>
<line x1="907.7" y1="1088.7" x2="907.7" y2="1115.6" stroke="#000" stroke-width="3.1" stroke-linecap="butt"/>
<line x1="903.0" y1="1090.2" x2="912.5" y2="1090.2" stroke="#000" stroke-width="3.1" stroke-linecap="butt"/>
<line x1="903.0" y1="1114.1" x2="912.5" y2="1114.1" stroke="#000" stroke-width="3.1" stroke-linecap="butt"/>
<line x1="903.7" y1="1097.7" x2="911.7" y2="1105.7" stroke="#000" stroke-width="2.8" stroke-linecap="butt"/>
<line x1="903.7" y1="1105.7" x2="911.7" y2="1097.7" stroke="#000" stroke-width="2.8" stroke-linecap="butt"/>
<line x1="1092.7" y1="1161.2" x2="1092.7" y2="1256.9" stroke="#3c3c3c" stroke-width="2.3" stroke-linecap="butt"/>
<line x1="1087.9" y1="1162.3" x2="1097.4" y2="1162.3" stroke="#3c3c3c" stroke-width="2.3" stroke-linecap="butt"/>
<line x1="1087.9" y1="1255.8" x2="1097.4" y2="1255.8" stroke="#3c3c3c" stroke-width="2.3" stroke-linecap="butt"/>
<line x1="1088.7" y1="1204.6" x2="1096.7" y2="1212.6" stroke="#000" stroke-width="2.8" stroke-linecap="butt"/>
<line x1="1088.7" y1="1212.6" x2="1096.7" y2="1204.6" stroke="#000" stroke-width="2.8" stroke-linecap="butt"/>
<line x1="907.7" y1="966.9" x2="907.7" y2="1022.2" stroke="#000" stroke-width="3.1" stroke-linecap="butt"/>
<line x1="903.0" y1="968.4" x2="912.5" y2="968.4" stroke="#000" stroke-width="3.1" stroke-linecap="butt"/>
<line x1="903.0" y1="1020.6" x2="912.5" y2="1020.6" stroke="#000" stroke-width="3.1" stroke-linecap="butt"/>
<line x1="903.7" y1="990.8" x2="911.7" y2="998.8" stroke="#000" stroke-width="2.8" stroke-linecap="butt"/>
<line x1="903.7" y1="998.8" x2="911.7" y2="990.8" stroke="#000" stroke-width="2.8" stroke-linecap="butt"/>
<line x1="1092.7" y1="996.1" x2="1092.7" y2="1072.0" stroke="#3c3c3c" stroke-width="2.3" stroke-linecap="butt"/>
<line x1="1087.9" y1="997.3" x2="1097.4" y2="997.3" stroke="#3c3c3c" stroke-width="2.3" stroke-linecap="butt"/>
<line x1="1087.9" y1="1070.8" x2="1097.4" y2="1070.8" stroke="#3c3c3c" stroke-width="2.3" stroke-linecap="butt"/>
<line x1="1088.7" y1="1030.1" x2="1096.7" y2="1038.1" stroke="#000" stroke-width="2.8" stroke-linecap="butt"/>
<line x1="1088.7" y1="1038.1" x2="1096.7" y2="1030.1" stroke="#000" stroke-width="2.8" stroke-linecap="butt"/>
<text x="800.7" y="110.6" font-size="27" font-weight="normal" fill="#000" stroke="#000" stroke-width="0.5" textLength="294.2">SARS-CoV-2 recovered</text>
<text x="800.7" y="141.8" font-size="27" font-weight="normal" fill="#000" stroke="#000" stroke-width="0.5" textLength="258.5">BNT162b2 vaccinees</text>
<text x="800.7" y="173.0" font-size="27" font-weight="normal" fill="#000" stroke="#000" stroke-width="0.5">(n=75)</text>
<line x1="759.3" y1="132.8" x2="786.5" y2="132.8" stroke="#0a0ca8" stroke-width="6" stroke-linecap="butt"/>
<circle cx="773.0" cy="132.8" r="3.5" fill="#0a0ca8"/>
<text x="800.7" y="221.1" font-size="27" font-weight="normal" fill="#000" stroke="#000" stroke-width="0.5" textLength="237.8">SARS-CoV-2 naïve</text>
<text x="800.7" y="252.6" font-size="27" font-weight="normal" fill="#000" stroke="#000" stroke-width="0.5" textLength="258.5">BNT162b2 vaccinees</text>
<text x="800.7" y="284.1" font-size="27" font-weight="normal" fill="#000" stroke="#000" stroke-width="0.5">(n=262)</text>
<line x1="759.3" y1="243.6" x2="770.5" y2="243.6" stroke="#9898ee" stroke-width="5.6" stroke-linecap="butt"/>
<line x1="783.0" y1="243.6" x2="785.2" y2="243.6" stroke="#9898ee" stroke-width="3.6" stroke-linecap="butt" opacity="0.8"/>
<circle cx="773.0" cy="243.6" r="3.5" fill="#9898ee"/>
<text x="800.7" y="328.5" font-size="27" font-weight="normal" fill="#000" stroke="#000" stroke-width="0.5" textLength="294.2">SARS-CoV-2 recovered</text>
<text x="800.7" y="360.2" font-size="27" font-weight="normal" fill="#000" stroke="#000" stroke-width="0.5" textLength="358.5">ChAdOx1 nCoV-19 vaccinees</text>
<text x="800.7" y="391.9" font-size="27" font-weight="normal" fill="#000" stroke="#000" stroke-width="0.5">(n=47)</text>
<line x1="759.3" y1="351.2" x2="786.5" y2="351.2" stroke="#ec8833" stroke-width="6" stroke-linecap="butt"/>
<line x1="769.9" y1="348.6" x2="775.1" y2="353.8" stroke="#000" stroke-width="2" stroke-linecap="butt"/>
<line x1="769.9" y1="353.8" x2="775.1" y2="348.6" stroke="#000" stroke-width="2" stroke-linecap="butt"/>
<text x="800.7" y="443.1" font-size="27" font-weight="normal" fill="#000" stroke="#000" stroke-width="0.5" textLength="237.8">SARS-CoV-2 naïve</text>
<text x="800.7" y="475.1" font-size="27" font-weight="normal" fill="#000" stroke="#000" stroke-width="0.5" textLength="358.5">ChAdOx1 nCoV-19 vaccinees</text>
<text x="800.7" y="507.1" font-size="27" font-weight="normal" fill="#000" stroke="#000" stroke-width="0.5">(n=61)</text>
<line x1="759.3" y1="466.1" x2="770.5" y2="466.1" stroke="#f3c28f" stroke-width="5.6" stroke-linecap="butt"/>
<line x1="783.0" y1="466.1" x2="785.2" y2="466.1" stroke="#f3c28f" stroke-width="3.6" stroke-linecap="butt" opacity="0.8"/>
<line x1="769.9" y1="463.5" x2="775.1" y2="468.7" stroke="#000" stroke-width="2" stroke-linecap="butt"/>
<line x1="769.9" y1="468.7" x2="775.1" y2="463.5" stroke="#000" stroke-width="2" stroke-linecap="butt"/>
</svg>
</body></html>
